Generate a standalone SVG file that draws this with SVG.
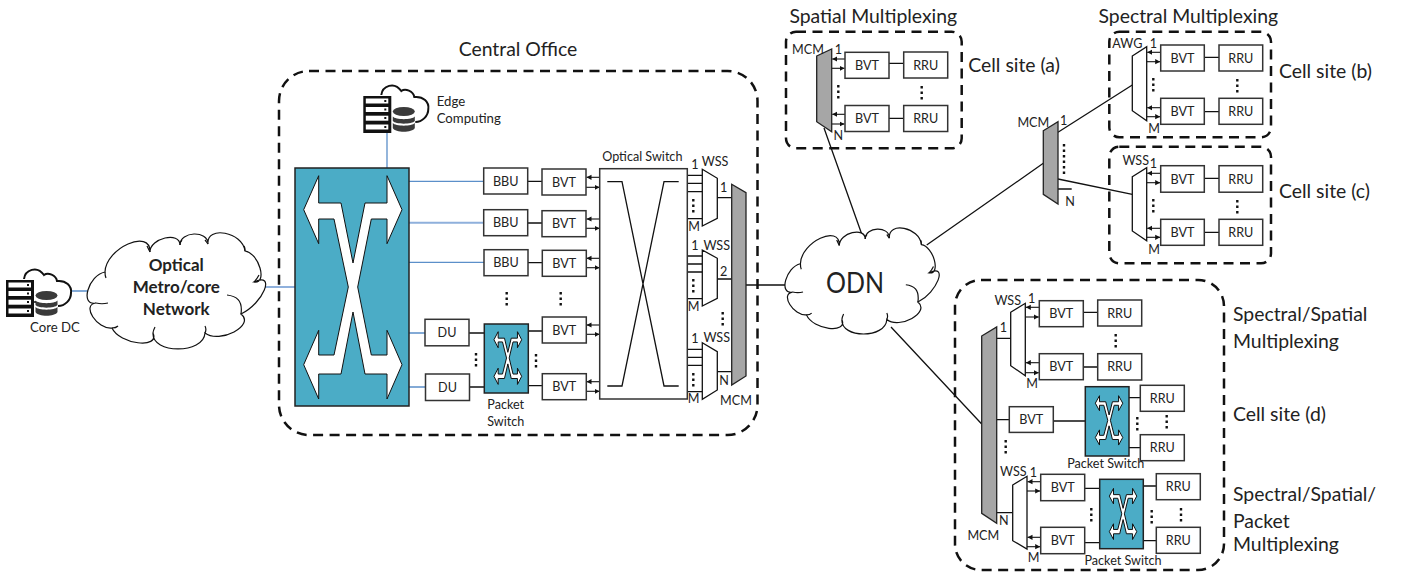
<svg xmlns="http://www.w3.org/2000/svg" xmlns:xlink="http://www.w3.org/1999/xlink" width="1404" height="577" viewBox="0 0 1404 577">
<style>
text{font-family:"Lato","Liberation Sans",sans-serif;fill:#222;text-anchor:middle}
.s{font-size:12.6px}.l{font-size:19.4px}.st{text-anchor:start}
.e{font-size:13.2px}
.o{font-size:17px;font-weight:700}
.b{fill:#fff;stroke:#333;stroke-width:1.5}
.d{fill:none;stroke:#111;stroke-width:2.5;stroke-dasharray:10 6.5}
.w{fill:none;stroke:#111;stroke-width:1.3}
.bl{fill:none;stroke:#5b8fc9;stroke-width:1.3}
.bt{fill:none;stroke:#8fb0dc;stroke-width:2}
.t{fill:#fff;stroke:#111;stroke-width:1.3}
.g{fill:#a6a6a6;stroke:#222;stroke-width:1.3}
.sw{fill:#4bacc6;stroke:#222;stroke-width:1.5}
.x{fill:#fff;stroke:#111;stroke-width:1;vector-effect:non-scaling-stroke}
.c{fill:#fff;stroke:#111;stroke-width:1.2;vector-effect:non-scaling-stroke}
.cc{fill:none;stroke:#111;stroke-width:1.2;vector-effect:non-scaling-stroke}
.dt{fill:none;stroke:#111;stroke-width:2.4;stroke-dasharray:2.5 3}
.ar{fill:none;stroke:#111;stroke-width:1.1;marker-end:url(#ah)}
</style>
<defs>
<marker id="ah" markerUnits="userSpaceOnUse" markerWidth="6" markerHeight="6" refX="5" refY="3" orient="auto"><path d="M0,0.4L5,3L0,5.6z" fill="#111"/></marker>
<path id="xa" class="x" d="M23.7,7.7L8.7,41.7L23.7,75.7V51H39L53.3,119L39,187H23.7V162.3L8.7,196.7L23.7,231V206H46L58,144L70,206H92V231L107,196.7L92,162.3V187H76.3L62.7,119L76.3,51H92V75.7L107,41.7L92,7.7V35H70L58,95L46,35H23.7z"/>
<g id="cl">
<path class="c" d="M96,303C79.300,306.300 88.300,275.300 105,272C105.700,248 150.700,228 150,252C150,238 180,231 180,245C180,231 208,230 208,244C206,225 243,232 245,251C259,253 268,284 254,282C276.400,271.300 263.400,303.300 241,314C255.700,325.300 219.700,344.300 205,333C203.700,354.300 151.700,354.300 153,333C160.300,349.300 119.300,344.300 112,328C97,329.600 81,304.600 96,303z"/>
<path class="cc" d="M96,303C100,304 104,304 108,303M105,272C105,274 105,276 106,278M150,252C149,250 148,248 147,246M180,245C180,243 181,241 182,240M208,244C207,243 206,241 205,240M245,251C245,249 245,247 244,246M254,282C256,280 258,277 259,275M241,314C243,300 236,296 227,295M205,333C206,331 206,328 205,326M153,333C153,331 154,329 155,327M112,328C115,328 117,327 118,326"/>
</g>
<g id="ic">
<rect width="28" height="37" fill="#111"/>
<g fill="#fff"><rect x="2.5" y="2.5" width="22.5" height="5"/><rect x="2.5" y="11" width="22.5" height="5"/><rect x="2.5" y="19.700" width="22.500" height="5"/><rect x="2.500" y="28.500" width="22.500" height="5"/></g>
<g fill="#111"><rect x="21" y="4" width="2" height="2"/><rect x="21" y="12.500" width="2" height="2"/><rect x="21" y="21" width="2" height="2"/><rect x="21" y="30" width="2" height="2"/></g>
<path d="M18,-1C19,-10 31,-15 38,-5C42,-8 50,-5 51,1C60,0 66,6 65,13C65,20 59,26 52,26" fill="none" stroke="#111" stroke-width="2"/>
<g fill="#3a3a3a"><ellipse cx="40.500" cy="15.500" rx="11" ry="4.500"/><path d="M29.500,20.500C32,24 49,24 51.500,20.500V25C49,28.500 32,28.500 29.500,25z"/><path d="M29.500,27C32,30.500 49,30.500 51.500,27V32C49,37 32,37 29.500,32z"/></g>
</g>
</defs>

<g id="connectors">
<path class="bl" d="M72,291H88M387,133V168M409,181.300H484M409,262.300H484M409,333H425M409,387H425"/>
<path class="bt" d="M264,287H295M409,222.700H484"/>
<path class="w" d="M528,181.300H542M528,223H542M528,262.700H542M469,333H484M469,387H484M528,331H542M528,385.700H542"/>
<path class="ar" d="M600,177.300H586.500"/><path class="ar" d="M586,187.300H599.500"/><path class="ar" d="M600,219H586.500"/><path class="ar" d="M586,228.300H599.500"/><path class="ar" d="M600,258.300H586.500"/><path class="ar" d="M586,267.700H599.500"/><path class="ar" d="M600,325H586.500"/><path class="ar" d="M586,334.300H599.500"/><path class="ar" d="M600,381.700H586.500"/><path class="ar" d="M586,391.300H599.500"/>
<path class="w" d="M687.300,175.300H702.300M687.300,183.300H702.300M687.300,191.700H702.300M687.300,218.700H702.300M687.300,256H702.300M687.300,264H702.300M687.300,272H702.300M687.300,298.700H702.300M687.300,349.300H702.300M687.300,357.300H702.300M687.300,365.300H702.300M687.300,391.700H702.300"/>
<path class="w" d="M717.300,197.700H731.700M717.300,279H731.700M717.300,371.700H731.700M746,285H786"/>
<path class="w" d="M824,128L861.700,234M926.700,245L1043.300,163.300M1058,132.300L1132.300,85M1058,179L1132.300,194.300M1058,189H1071.700M891,327L981.700,424"/>
<path class="ar" d="M845,59H832.200"/><path class="ar" d="M831.700,68.300H844.500"/><path class="ar" d="M845,114.300H832.200"/><path class="ar" d="M831.700,124H844.500"/>
<path class="w" d="M889,63.300H903.700M889,118.300H903.700"/>
<path class="ar" d="M1160.700,52.300H1147.200"/><path class="ar" d="M1146.700,61.700H1160.200"/><path class="ar" d="M1160.700,107.700H1147.200"/><path class="ar" d="M1146.700,116.700H1160.200"/>
<path class="ar" d="M1160.700,173.300H1147.200"/><path class="ar" d="M1146.700,182.700H1160.200"/><path class="ar" d="M1160.700,228.300H1147.200"/><path class="ar" d="M1146.700,237.300H1160.200"/>
<path class="w" d="M1204.300,57.300H1219M1204.300,111.700H1219M1204.300,178.300H1219M1204.300,232.300H1219"/>
<path class="w" d="M996.700,338.300H1010.700M996.700,419.700H1009.300M996.700,512.700H1012.700M1053.300,421H1085.300M1129,397.700H1140.300M1129,447.700H1140.300M1084.700,488.300H1099.700M1084.700,542.700H1099.700M1143.300,486H1156.300M1143.300,540.700H1156.300M1083.300,312.300H1097.700M1083.300,367H1097.700"/>
<path class="ar" d="M1039.300,307.300H1025.800"/><path class="ar" d="M1025.300,317H1038.800"/><path class="ar" d="M1039.300,362.700H1025.800"/><path class="ar" d="M1025.300,372.700H1038.800"/>
<path class="ar" d="M1040.700,481.700H1027.500"/><path class="ar" d="M1027,491H1040.200"/><path class="ar" d="M1040.700,537.300H1027.500"/><path class="ar" d="M1027,546.700H1040.200"/>
</g>

<g id="core-dc"><use href="#ic" x="6" y="280"/><path class="w" d="M34,302H36"/><text x="55" y="332" class="e">Core DC</text></g>
<g id="metro-cloud"><use href="#cl"/><text x="176.300" y="271" class="o">Optical</text><text x="176.300" y="293" class="o">Metro/core</text><text x="176.300" y="315" class="o">Network</text></g>

<g id="central-office">
<rect class="d" x="279" y="71" width="478.500" height="364" rx="30"/>
<text x="518" y="56" class="l">Central Office</text>
</g>
<g id="edge-computing"><use href="#ic" x="363.300" y="96"/><text x="436.700" y="106" class="e st">Edge</text><text x="436.700" y="123" class="e st">Computing</text></g>
<g id="main-switch"><rect class="sw" x="295" y="168" width="114" height="238"/><use href="#xa" x="0" y="0" transform="translate(295,168)"/></g>

<g id="bbu1"><rect class="b" x="483.700" y="168" width="44" height="26"/><text x="505.700" y="185.500" class="s">BBU</text></g>
<g id="bbu2"><rect class="b" x="483.700" y="209.700" width="44" height="26"/><text x="505.700" y="227.200" class="s">BBU</text></g>
<g id="bbu3"><rect class="b" x="484" y="249.700" width="44" height="26"/><text x="506" y="267.200" class="s">BBU</text></g>
<g id="du1"><rect class="b" x="425" y="319.300" width="44" height="26.500"/><text x="447" y="337" class="s">DU</text></g>
<g id="du2"><rect class="b" x="425.500" y="374" width="44" height="26.500"/><text x="447.500" y="391.500" class="s">DU</text></g>
<g id="packet-switch-co"><rect class="sw" x="484.300" y="324" width="44" height="69"/><use href="#xa" transform="translate(491.500,329.900) scale(.282,.236)"/><text x="505.700" y="409" class="s">Packet</text><text x="505.700" y="426" class="s">Switch</text></g>
<g id="bvt1"><rect class="b" x="542" y="169" width="44" height="26"/><text x="564" y="186.500" class="s">BVT</text></g>
<g id="bvt2"><rect class="b" x="542" y="210.700" width="44" height="26"/><text x="564" y="228.200" class="s">BVT</text></g>
<g id="bvt3"><rect class="b" x="542.300" y="250.300" width="44" height="26"/><text x="564.300" y="267.800" class="s">BVT</text></g>
<g id="bvt4"><rect class="b" x="542.300" y="317" width="44" height="26"/><text x="564.300" y="334.500" class="s">BVT</text></g>
<g id="bvt5"><rect class="b" x="542.300" y="373.700" width="44" height="26"/><text x="564.300" y="391.200" class="s">BVT</text></g>
<g id="optical-switch"><rect class="b" x="599.700" y="168.700" width="87.600" height="230.300"/><path class="w" d="M607.300,181.700H622L664,386H678.700M678.700,181.700H664L622,386H607.300"/><text x="642.300" y="161" class="s">Optical Switch</text></g>
<g id="wss1"><path class="t" d="M702.300,169.300L717.300,178.300V218.300L702.300,226z"/><text x="695" y="169" class="s">1</text><text x="715" y="166" class="s">WSS</text><text x="694" y="230.500" class="s">M</text><text x="723.700" y="192" class="s">1</text></g>
<g id="wss2"><path class="t" d="M702.300,250L717.300,258.300V298.300L702.300,306z"/><text x="695" y="249.500" class="s">1</text><text x="716.700" y="249.500" class="s">WSS</text><text x="693.500" y="310.500" class="s">M</text><text x="723.700" y="275.500" class="s">2</text></g>
<g id="wss3"><path class="t" d="M702.300,342.700L717.300,351.700V390L702.300,399.300z"/><text x="695" y="342.500" class="s">1</text><text x="716.700" y="341.500" class="s">WSS</text><text x="693.500" y="402.500" class="s">M</text><text x="724" y="384.500" class="s">N</text></g>
<g id="mcm-co"><path class="g" d="M731.700,184.300L746,192.700V376L731.700,385z"/><text x="736" y="405" class="s">MCM</text></g>
<path class="dt" d="M506.700,292V305.500M560.700,292V305.500M476,353V366.500M536,354V367.500M693.300,199V212.500M693.300,279V292.500M693.300,373V386.500M722.700,312V325.500"/>

<g id="odn"><use href="#cl" transform="translate(709.700,15.400) scale(.864,.913)"/><text x="855" y="293" style="font-size:28px" textLength="58" lengthAdjust="spacingAndGlyphs">ODN</text></g>

<g id="cell-site-a">
<rect class="d" x="786" y="31.700" width="175.700" height="116.600" rx="10"/>
<text x="873.300" y="22.500" class="l">Spatial Multiplexing</text><text x="968.300" y="71.500" class="l st">Cell site (a)</text>
<path class="g" d="M816.700,56L831.700,49V131.700L816.700,121.700z"/>
<rect class="b" x="845" y="52.300" width="44" height="26"/><text x="867" y="69.800" class="s">BVT</text>
<rect class="b" x="845" y="105.500" width="44" height="26"/><text x="867" y="123" class="s">BVT</text>
<rect class="b" x="903.700" y="52" width="44" height="26"/><text x="925.700" y="69.500" class="s">RRU</text>
<rect class="b" x="903.700" y="105.500" width="44" height="26"/><text x="925.700" y="123" class="s">RRU</text>
<text x="808" y="54" class="s">MCM</text><text x="838.300" y="54" class="s">1</text><text x="838.300" y="139.500" class="s">N</text>
<path class="dt" d="M838.300,85V98.500M921.700,86V99.500"/>
</g>
<g id="mcm-mid"><path class="g" d="M1043.300,130.700L1058,121.700V204L1043.300,194.300z"/><text x="1033.300" y="126.500" class="s">MCM</text><text x="1063.700" y="125" class="s">1</text><text x="1070" y="206" class="s">N</text><path class="dt" d="M1064,144V174"/></g>
<g id="cell-site-b">
<rect class="d" x="1109.300" y="31.700" width="161.700" height="105.600" rx="10"/>
<text x="1188.300" y="22.500" class="l">Spectral Multiplexing</text><text x="1279" y="78" class="l st">Cell site (b)</text>
<path class="t" d="M1132.300,56L1146.700,46.700V120.700L1132.300,110.700z"/>
<rect class="b" x="1160.700" y="45" width="43.600" height="26"/><text x="1182.500" y="62.500" class="s">BVT</text>
<rect class="b" x="1160.700" y="98.300" width="43.600" height="26"/><text x="1182.500" y="115.800" class="s">BVT</text>
<rect class="b" x="1219" y="45" width="43.700" height="26"/><text x="1240.800" y="62.500" class="s">RRU</text>
<rect class="b" x="1219" y="98.300" width="43.700" height="26"/><text x="1240.800" y="115.800" class="s">RRU</text>
<text x="1127.300" y="47.500" class="s">AWG</text><text x="1153.300" y="47.500" class="s">1</text><text x="1154" y="132.500" class="s">M</text>
<path class="dt" d="M1153.300,78V91.500M1237.300,79V92.500"/>
</g>
<g id="cell-site-c">
<rect class="d" x="1109.300" y="146.700" width="161.700" height="116.600" rx="10"/>
<text x="1279" y="198" class="l st">Cell site (c)</text>
<path class="t" d="M1132.300,176.700L1146.700,167.700V240.700L1132.300,231z"/>
<rect class="b" x="1160.700" y="165.700" width="43.600" height="26.500"/><text x="1182.500" y="183.500" class="s">BVT</text>
<rect class="b" x="1160.700" y="219.300" width="43.600" height="26"/><text x="1182.500" y="236.800" class="s">BVT</text>
<rect class="b" x="1219" y="165.700" width="43.700" height="26.500"/><text x="1240.800" y="183.500" class="s">RRU</text>
<rect class="b" x="1219" y="219.300" width="43.700" height="26"/><text x="1240.800" y="236.800" class="s">RRU</text>
<text x="1135.700" y="165" class="s">WSS</text><text x="1153.300" y="168" class="s">1</text><text x="1154" y="253.500" class="s">M</text>
<path class="dt" d="M1153.300,199V212.500M1237.300,200V213.500"/>
</g>
<g id="cell-site-d">
<rect class="d" x="955" y="280" width="269" height="290" rx="26"/>
<text x="1233" y="321" class="l st">Spectral/Spatial</text><text x="1233" y="348" class="l st">Multiplexing</text><text x="1233" y="421" class="l st">Cell site (d)</text><text x="1233" y="501" class="l st">Spectral/Spatial/</text><text x="1233" y="528" class="l st">Packet</text><text x="1233" y="551" class="l st">Multiplexing</text>
<path class="g" d="M981.700,336L996.700,327V523.300L981.700,513.300z"/>
<path class="t" d="M1010.700,312.300L1025.300,303.300V375.700L1010.700,365.700z"/>
<path class="t" d="M1012.700,485L1027,476.300V549L1012.700,540.700z"/>
<rect class="b" x="1039.300" y="300.700" width="44" height="26"/><text x="1061.300" y="318.200" class="s">BVT</text>
<rect class="b" x="1039.300" y="353.700" width="44" height="26"/><text x="1061.300" y="371.200" class="s">BVT</text>
<rect class="b" x="1097.700" y="300" width="44" height="26"/><text x="1119.700" y="317.500" class="s">RRU</text>
<rect class="b" x="1097.700" y="353.700" width="44" height="26.300"/><text x="1119.700" y="371.300" class="s">RRU</text>
<rect class="b" x="1009.300" y="406.700" width="44" height="25.700"/><text x="1031.300" y="424" class="s">BVT</text>
<rect class="sw" x="1085.300" y="386.700" width="43.700" height="69.300"/><use href="#xa" transform="translate(1092.900,394) scale(.279,.221)"/>
<rect class="b" x="1140.300" y="385.300" width="44" height="26"/><text x="1162.300" y="402.800" class="s">RRU</text>
<rect class="b" x="1140.300" y="434.700" width="44" height="26"/><text x="1162.300" y="452.200" class="s">RRU</text>
<text x="1105.700" y="468" class="s">Packet Switch</text>
<rect class="b" x="1040.700" y="474.300" width="44" height="26.400"/><text x="1062.700" y="492" class="s">BVT</text>
<rect class="b" x="1040.700" y="527.300" width="44" height="26.400"/><text x="1062.700" y="545" class="s">BVT</text>
<rect class="sw" x="1099.700" y="479.300" width="43.600" height="69.400"/><use href="#xa" transform="translate(1106.900,486.600) scale(.279,.229)"/>
<rect class="b" x="1156.300" y="473.700" width="44" height="26"/><text x="1178.300" y="491.200" class="s">RRU</text>
<rect class="b" x="1156.300" y="527.300" width="44" height="26"/><text x="1178.300" y="544.800" class="s">RRU</text>
<text x="1123" y="565" class="s">Packet Switch</text>
<text x="1007.700" y="305" class="s">WSS</text><text x="1031.700" y="303" class="s">1</text><text x="1003.300" y="332" class="s">1</text><text x="1032" y="388" class="s">M</text>
<text x="1013.300" y="476" class="s">WSS</text><text x="1033.300" y="477" class="s">1</text><text x="1033.700" y="562" class="s">M</text><text x="1003.700" y="525" class="s">N</text><text x="983.300" y="540" class="s">MCM</text>
<path class="dt" d="M1115.700,334V347.500M1137.300,417V430.500M1166.700,415V428.500M1005.700,440V453.500M1091.300,508V521.500M1151.700,510V523.500M1181,508V521.500"/>
</g>
</svg>
